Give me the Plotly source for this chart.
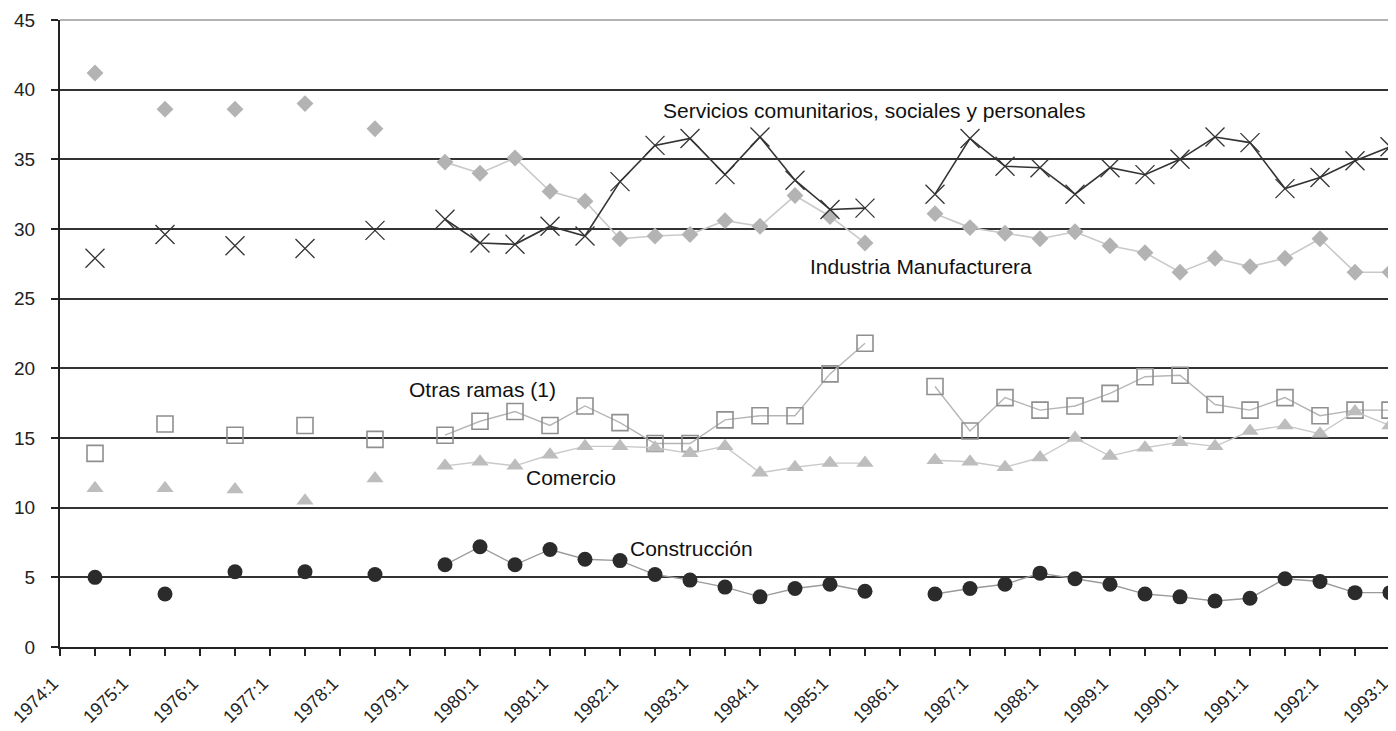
import plotly.graph_objects as go

periods = [
    "1974:1", "1974:2", "1975:1", "1975:2", "1976:1", "1976:2", "1977:1", "1977:2",
    "1978:1", "1978:2", "1979:1", "1979:2", "1980:1", "1980:2", "1981:1", "1981:2",
    "1982:1", "1982:2", "1983:1", "1983:2", "1984:1", "1984:2", "1985:1", "1985:2",
    "1986:1", "1986:2", "1987:1", "1987:2", "1988:1", "1988:2", "1989:1", "1989:2",
    "1990:1", "1990:2", "1991:1", "1991:2", "1992:1", "1992:2", "1993:1",
]

industria = [None, 41.2, None, 38.6, None, 38.6, None, 39.0, None, 37.2, None,
             34.8, 34.0, 35.1, 32.7, 32.0, 29.3, 29.5, 29.6, 30.6, 30.2, 32.4, 30.9, 29.0,
             None,
             31.1, 30.1, 29.7, 29.3, 29.8, 28.8, 28.3, 26.9, 27.9, 27.3, 27.9, 29.3, 26.9, 26.9]

servicios = [None, 27.9, None, 29.6, None, 28.8, None, 28.6, None, 29.9, None,
             30.7, 29.0, 28.9, 30.2, 29.5, 33.4, 36.0, 36.5, 33.9, 36.6, 33.5, 31.4, 31.5,
             None,
             32.5, 36.5, 34.5, 34.4, 32.5, 34.4, 33.9, 35.0, 36.6, 36.2, 32.9, 33.7, 34.9, 35.9]

otras = [None, 13.9, None, 16.0, None, 15.2, None, 15.9, None, 14.9, None,
         15.2, 16.2, 16.9, 15.9, 17.3, 16.1, 14.6, 14.6, 16.3, 16.6, 16.6, 19.6, 21.8,
         None,
         18.7, 15.5, 17.9, 17.0, 17.3, 18.2, 19.4, 19.5, 17.4, 17.0, 17.9, 16.6, 17.0, 17.0]

comercio = [None, 11.4, None, 11.4, None, 11.3, None, 10.5, None, 12.1, None,
            13.0, 13.3, 13.0, 13.8, 14.4, 14.4, 14.3, 13.9, 14.4, 12.5, 12.9, 13.2, 13.2,
            None,
            13.4, 13.3, 12.9, 13.6, 15.0, 13.7, 14.3, 14.7, 14.4, 15.5, 15.9, 15.3, 16.9, 15.9]

construccion = [None, 5.0, None, 3.8, None, 5.4, None, 5.4, None, 5.2, None,
                5.9, 7.2, 5.9, 7.0, 6.3, 6.2, 5.2, 4.8, 4.3, 3.6, 4.2, 4.5, 4.0,
                None,
                3.8, 4.2, 4.5, 5.3, 4.9, 4.5, 3.8, 3.6, 3.3, 3.5, 4.9, 4.7, 3.9, 3.9]

y_ticks = [0, 5, 10, 15, 20, 25, 30, 35, 40, 45]

x = list(range(len(periods)))
label_idx = x[::2]
label_txt = periods[::2]

FONT = "Liberation Sans, Arial, sans-serif"

fig = go.Figure()

fig.add_trace(go.Scatter(
    x=x, y=industria, mode="lines+markers", name="Industria Manufacturera",
    line=dict(color="#c9c9c9", width=1.6),
    marker=dict(symbol="diamond", size=13, color="#b3b3b3"),
    cliponaxis=False,
))
fig.add_trace(go.Scatter(
    x=x, y=otras, mode="lines+markers", name="Otras ramas (1)",
    line=dict(color="#b5b5b5", width=1.4),
    marker=dict(symbol="square-open", size=16, color="#8f8f8f", line=dict(width=1.6)),
    cliponaxis=False,
))
fig.add_trace(go.Scatter(
    x=x, y=comercio, mode="lines+markers", name="Comercio",
    line=dict(color="#c9c9c9", width=1.4),
    marker=dict(symbol="triangle-up", size=15, color="#bdbdbd"),
    cliponaxis=False,
))
fig.add_trace(go.Scatter(
    x=x, y=construccion, mode="lines+markers", name="Construcción",
    line=dict(color="#9a9a9a", width=1.4),
    marker=dict(symbol="circle", size=15, color="#2b2b2b"),
    cliponaxis=False,
))
fig.add_trace(go.Scatter(
    x=x, y=servicios, mode="lines+markers", name="Servicios comunitarios, sociales y personales",
    line=dict(color="#333333", width=1.6),
    marker=dict(symbol="x-thin", size=19, color="#333333", line=dict(width=1.3, color="#333333")),
    cliponaxis=False,
))

annots = [
    ("Servicios comunitarios, sociales y personales", 17.17, 38.5),
    ("Industria Manufacturera", 21.37, 27.3),
    ("Otras ramas (1)", 9.91, 18.5),
    ("Comercio", 13.27, 12.2),
    ("Construcción", 16.22, 7.1),
]
for txt, ax, ay in annots:
    fig.add_annotation(x=ax, y=ay, text=txt, showarrow=False, xanchor="left", yanchor="middle",
                       font=dict(family=FONT, size=21, color="#111111"))

# gray plot-area border on top and right
fig.add_shape(type="line", xref="paper", yref="paper", x0=0, x1=1, y0=1, y1=1,
              line=dict(color="#9a9a9a", width=1.5), layer="above")
fig.add_shape(type="line", xref="paper", yref="paper", x0=1, x1=1, y0=0, y1=1,
              line=dict(color="#9a9a9a", width=1.5), layer="above")

fig.update_layout(
    width=1388, height=723,
    margin=dict(l=52, r=6, t=12, b=84, autoexpand=False),
    paper_bgcolor="white", plot_bgcolor="white",
    showlegend=False,
    font=dict(family=FONT, color="#222222"),
    xaxis=dict(
        range=[0, len(periods) - 1],
        tickmode="array", tickvals=label_idx, ticktext=label_txt,
        tickangle=-45, tickfont=dict(size=18, family=FONT, color="#222222"),
        ticks="outside", ticklen=7, tickwidth=1.5, tickcolor="#222222",
        ticklabelstandoff=10, ticklabelshift=-7, ticklabeloverflow="allow",
        minor=dict(dtick=1, tick0=0, ticks="outside", ticklen=7, tickwidth=1.5, tickcolor="#222222", showgrid=False),
        showgrid=False, zeroline=False,
        showline=True, linecolor="#222222", linewidth=2,
        automargin=False,
    ),
    yaxis=dict(
        range=[0, 45],
        tickmode="array", tickvals=y_ticks,
        tickfont=dict(size=19, family=FONT, color="#222222"),
        ticks="outside", ticklen=7, tickwidth=1.5, tickcolor="#222222",
        ticklabelstandoff=12,
        showgrid=True, gridcolor="#333333", gridwidth=1.6,
        zeroline=False,
        showline=True, linecolor="#222222", linewidth=2,
        automargin=False,
    ),
)

fig.write_html("out.html")
